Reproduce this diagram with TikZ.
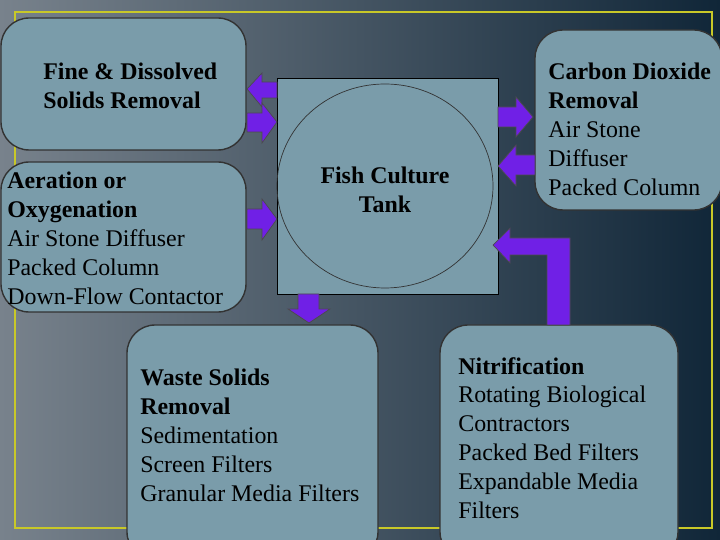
\documentclass[tikz,border=0pt]{standalone}
\usepackage{fontspec}
\setmainfont{Liberation Serif}
\usetikzlibrary{positioning}
\definecolor{boxfill}{RGB}{122,156,170}
\definecolor{arrowfill}{RGB}{112,32,230}
\definecolor{bgdark}{RGB}{16,38,56}
\definecolor{bglight}{RGB}{120,130,140}
\definecolor{rimyellow}{RGB}{200,200,40}
\tikzset{
  unitbox/.style={draw=black!80,fill=boxfill,rounded corners=16pt,thick},
  label/.style={anchor=north west,inner sep=0pt,align=left,font=\fontsize{13.6}{16.4}\selectfont},
  flow/.style={draw=black!70,fill=arrowfill,thin}
}
\begin{document}
\begin{tikzpicture}[x=0.02cm,y=-0.02cm]
\useasboundingbox (0,0) rectangle (720,540);
\shade[left color=bglight,right color=bgdark] (0,0) rectangle (720,540);
\draw[rimyellow,line width=1.5pt] (15,12) rectangle (712,528);

% units
\draw[unitbox] (1,18) rectangle (246,150);
\draw[unitbox] (1,162) rectangle (246,312);
\draw[unitbox] (535,30) rectangle (722,210);
\draw[unitbox] (127,325) rectangle (378,560);
\draw[unitbox] (440,325) rectangle (678,560);

% tank
\draw[fill=boxfill,draw=black] (277,78) rectangle (498,294);
\draw[black!80] (385,186) ellipse [x radius=108,y radius=102];
\node (tank) at (385,190) [align=center,font=\fontsize{13.6}{16.4}\selectfont\bfseries] {Fish Culture\\Tank};

% texts
\node (fine) [label] at (43,63) {\textbf{Fine \& Dissolved}\\\textbf{Solids Removal}};
\node (aer) [label] at (7,172) {\textbf{Aeration or}\\\textbf{Oxygenation}\\Air Stone Diffuser\\Packed Column\\Down-Flow Contactor};
\node (co2) [label] at (548,63) {\textbf{Carbon Dioxide}\\\textbf{Removal}\\Air Stone\\Diffuser\\Packed Column};
\node (waste) [label] at (140,369) {\textbf{Waste Solids}\\\textbf{Removal}\\Sedimentation\\Screen Filters\\Granular Media Filters};
\node (nitr) [label] at (458,357) {\textbf{Nitrification}\\Rotating Biological\\Contractors\\Packed Bed Filters\\Expandable Media\\Filters};

% flow arrows
\draw[flow] (277,82) -- (262,82) -- (262,73) -- (247,89) -- (262,107) -- (262,98) -- (277,98) -- cycle;
\draw[flow] (247,113) -- (262,113) -- (262,103) -- (277,122) -- (262,143) -- (262,132) -- (247,132) -- cycle;
\draw[flow] (247,209) -- (262,209) -- (262,199) -- (277,219) -- (262,240) -- (262,229) -- (247,229) -- cycle;
\draw[flow] (498,107) -- (516,107) -- (516,97) -- (533,117) -- (516,137) -- (516,127) -- (498,127) -- cycle;
\draw[flow] (535,155) -- (516,155) -- (516,145) -- (498,166) -- (516,186) -- (516,175) -- (535,175) -- cycle;
\draw[flow] (570,325) -- (570,238) -- (510,238) -- (510,228) -- (493,245) -- (510,263) -- (510,255) -- (547,255) -- (547,325) -- cycle;
\draw[flow] (298,294) -- (298,309) -- (288,309) -- (309,323) -- (330,309) -- (319,309) -- (319,294) -- cycle;
\end{tikzpicture}
\end{document}
